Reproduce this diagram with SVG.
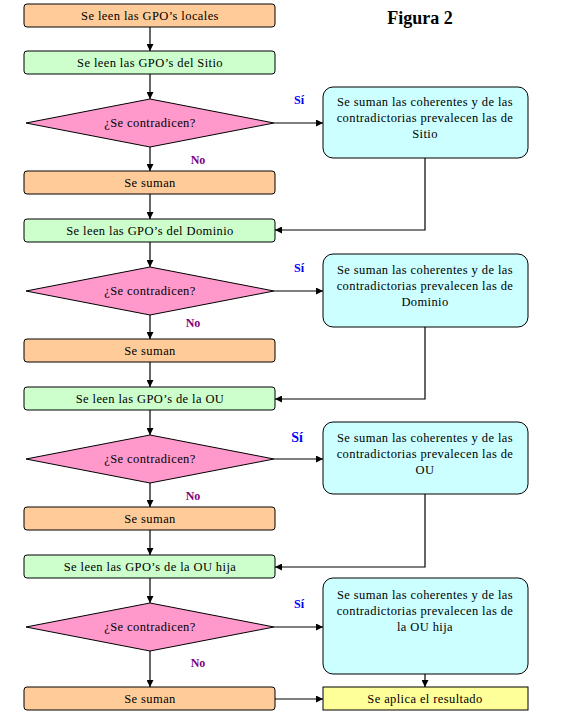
<svg xmlns="http://www.w3.org/2000/svg" width="569" height="723" viewBox="0 0 569 723">
<defs>
<marker id="ah" viewBox="0 0 8 8" refX="8" refY="4" markerWidth="7" markerHeight="7" markerUnits="userSpaceOnUse" orient="auto">
<path d="M0,0 L8,4 L0,8 Z" fill="#000"/>
</marker>
<style>
.t{font-family:"Liberation Serif","Times New Roman",serif;font-size:12.5px;letter-spacing:0.4px;fill:#000;text-anchor:middle;dominant-baseline:central}
.or{fill:#FFCC99;stroke:#000;stroke-width:1}
.gr{fill:#CCFFCC;stroke:#000;stroke-width:1}
.pk{fill:#FF99CC;stroke:#000;stroke-width:1}
.cy{fill:#CCFFFF;stroke:#000;stroke-width:1}
.ye{fill:#FFFF99;stroke:#000;stroke-width:1}
.c{fill:none;stroke:#000;stroke-width:1.2;marker-end:url(#ah)}
.si{font-family:"Liberation Serif","Times New Roman",serif;font-size:12px;font-weight:bold;fill:#0000FF;text-anchor:middle;dominant-baseline:central}
.no{font-family:"Liberation Serif","Times New Roman",serif;font-size:12px;font-weight:bold;fill:#800080;text-anchor:middle;dominant-baseline:central}
</style>
</defs>
<rect width="569" height="723" fill="#fff"/>
<text x="420" y="18" style="font-family:'Liberation Serif','Times New Roman',serif;font-size:18px;font-weight:bold;text-anchor:middle;dominant-baseline:central">Figura 2</text>

<g id="connectors">
<path class="c" d="M150,27 V51"/>
<path class="c" d="M150,74 V99"/>
<path class="c" d="M150,147 V171"/>
<path class="c" d="M150,194 V219"/>
<path class="c" d="M150,242 V267"/>
<path class="c" d="M150,315 V339"/>
<path class="c" d="M150,362 V387"/>
<path class="c" d="M150,410 V435"/>
<path class="c" d="M150,483 V507"/>
<path class="c" d="M150,530 V555"/>
<path class="c" d="M150,578 V603"/>
<path class="c" d="M150,651 V687"/>
<path class="c" d="M274,123 H323"/>
<path class="c" d="M274,291 H323"/>
<path class="c" d="M274,459 H323"/>
<path class="c" d="M274,627 H323"/>
<path class="c" d="M425,158 V230 H275"/>
<path class="c" d="M425,327 V399 H275"/>
<path class="c" d="M425,494 V567 H275"/>
<path class="c" d="M425,674 V687"/>
<path class="c" d="M275,699 H323"/>
</g>

<g id="n1"><rect class="or" x="24" y="4" width="251" height="23" rx="3"/><text class="t" x="150" y="16">Se leen las GPO’s locales</text></g>
<g id="n2"><rect class="gr" x="24" y="51" width="251" height="23" rx="3"/><text class="t" x="150" y="63">Se leen las GPO’s del Sitio</text></g>
<g id="d1"><polygon class="pk" points="150,99 274,123 150,147 26,123"/><text class="t" x="150" y="123">¿Se contradicen?</text></g>
<g id="b1"><rect class="cy" x="323" y="87" width="205" height="71" rx="10"/><text class="t" x="425" y="102">Se suman las coherentes y de las</text><text class="t" x="425" y="118">contradictorias prevalecen las de</text><text class="t" x="425" y="134">Sitio</text></g>
<g id="n3"><rect class="or" x="24" y="171" width="251" height="23" rx="3"/><text class="t" x="150" y="183">Se suman</text></g>
<g id="n4"><rect class="gr" x="24" y="219" width="251" height="23" rx="3"/><text class="t" x="150" y="231">Se leen las GPO’s del Dominio</text></g>
<g id="d2"><polygon class="pk" points="150,267 274,291 150,315 26,291"/><text class="t" x="150" y="291">¿Se contradicen?</text></g>
<g id="b2"><rect class="cy" x="323" y="254" width="205" height="73" rx="10"/><text class="t" x="425" y="270">Se suman las coherentes y de las</text><text class="t" x="425" y="286">contradictorias prevalecen las de</text><text class="t" x="425" y="302">Dominio</text></g>
<g id="n5"><rect class="or" x="24" y="339" width="251" height="23" rx="3"/><text class="t" x="150" y="351">Se suman</text></g>
<g id="n6"><rect class="gr" x="24" y="387" width="251" height="23" rx="3"/><text class="t" x="150" y="399">Se leen las GPO’s de la OU</text></g>
<g id="d3"><polygon class="pk" points="150,435 274,459 150,483 26,459"/><text class="t" x="150" y="459">¿Se contradicen?</text></g>
<g id="b3"><rect class="cy" x="323" y="422" width="205" height="72" rx="10"/><text class="t" x="425" y="438">Se suman las coherentes y de las</text><text class="t" x="425" y="454">contradictorias prevalecen las de</text><text class="t" x="425" y="470">OU</text></g>
<g id="n7"><rect class="or" x="24" y="507" width="251" height="23" rx="3"/><text class="t" x="150" y="519">Se suman</text></g>
<g id="n8"><rect class="gr" x="24" y="555" width="251" height="23" rx="3"/><text class="t" x="150" y="567">Se leen las GPO’s de la OU hija</text></g>
<g id="d4"><polygon class="pk" points="150,603 274,627 150,651 26,627"/><text class="t" x="150" y="627">¿Se contradicen?</text></g>
<g id="b4"><rect class="cy" x="323" y="578" width="205" height="96" rx="10"/><text class="t" x="425" y="595">Se suman las coherentes y de las</text><text class="t" x="425" y="611">contradictorias prevalecen las de</text><text class="t" x="425" y="627">la OU hija</text></g>
<g id="n9"><rect class="or" x="24" y="687" width="251" height="23" rx="3"/><text class="t" x="150" y="699">Se suman</text></g>
<g id="n10"><rect class="ye" x="323" y="687" width="205" height="23"/><text class="t" x="425" y="699">Se aplica el resultado</text></g>

<g id="labels">
<text class="si" x="299" y="100">Sí</text>
<text class="no" x="198" y="160">No</text>
<text class="si" x="299" y="268">Sí</text>
<text class="no" x="193" y="323">No</text>
<text class="si" x="297" y="437" style="font-size:14px">Sí</text>
<text class="no" x="193" y="496">No</text>
<text class="si" x="299" y="604">Sí</text>
<text class="no" x="198" y="663">No</text>
</g>
</svg>
